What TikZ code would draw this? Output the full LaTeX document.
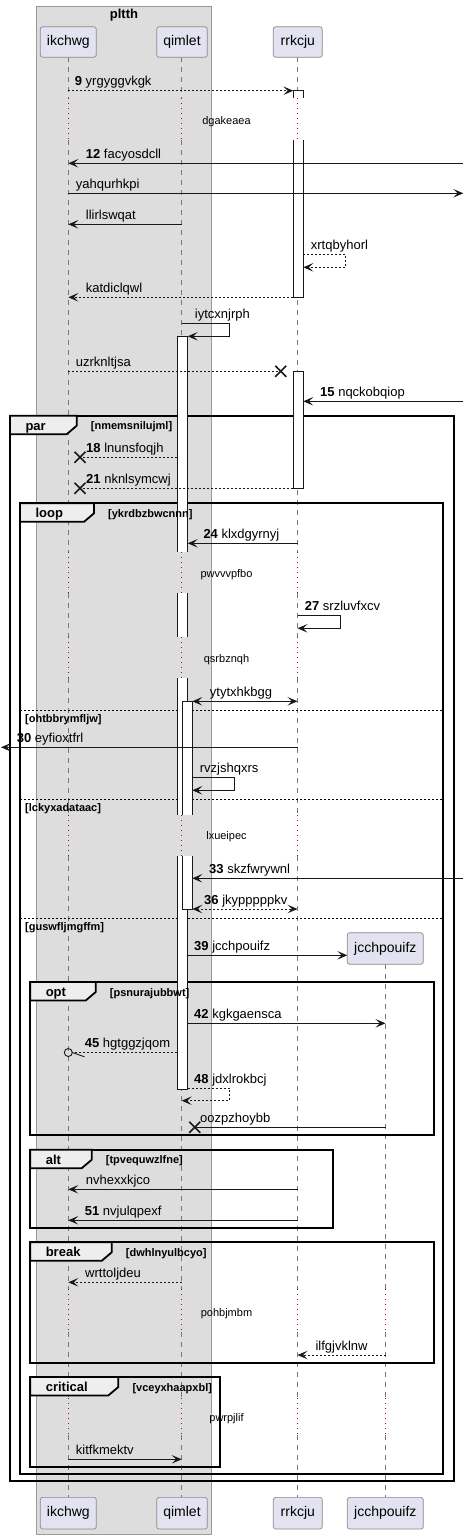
\documentclass[tikz,border=0pt]{standalone}
\usepackage{fontspec}
\setmainfont{Liberation Sans}
\usetikzlibrary{arrows.meta}
\definecolor{boxgray}{HTML}{DDDDDD}
\definecolor{boxline}{HTML}{9A9A9A}
\definecolor{partfill}{HTML}{E2E2F0}
\definecolor{partline}{HTML}{8A8A8A}
\definecolor{lifeln}{HTML}{777777}
\definecolor{delayred}{HTML}{A80036}
\definecolor{tabfill}{HTML}{EEEEEE}
\definecolor{ink}{HTML}{181818}
\tikzset{
  part/.style={draw=partline, fill=partfill, rounded corners=2.5pt, line width=0.7pt, inner sep=0pt, text height=10pt, text depth=3pt, font=\fontsize{14}{16}\selectfont},
  life/.style={draw=lifeln, line width=0.7pt, dash pattern=on 5pt off 5pt},
  delayline/.style={draw=delayred, line width=0.8pt, dash pattern=on 1pt off 4pt},
  actline/.style={draw=ink, line width=0.9pt},
  msg/.style={draw=ink, line width=0.9pt, -{Stealth[length=10pt,width=8.5pt,inset=4.5pt]}},
  dmsg/.style={msg, dash pattern=on 2pt off 2pt},
  bimsg/.style={draw=ink, line width=0.9pt, {Stealth[length=10pt,width=8.5pt,inset=4.5pt]}-{Stealth[length=10pt,width=8.5pt,inset=4.5pt]}},
  dbimsg/.style={bimsg, dash pattern=on 2pt off 2pt},
  plain/.style={draw=ink, line width=0.9pt},
  dplain/.style={plain, dash pattern=on 2pt off 2pt},
  lbl/.style={anchor=base west, inner sep=0pt, font=\fontsize{13}{15}\selectfont},
  frm/.style={draw=black, line width=1.8pt},
  tabshape/.style={draw=black, fill=tabfill, line width=1.8pt},
  grp/.style={anchor=base west, inner sep=0pt, font=\fontsize{13}{15}\selectfont\bfseries},
  cond/.style={anchor=base west, inner sep=0pt, font=\fontsize{11}{13}\selectfont\bfseries},
  dtext/.style={anchor=base, inner sep=0pt, font=\fontsize{11}{13}\selectfont},
  sepline/.style={draw=black, line width=0.9pt, dash pattern=on 2pt off 2pt},
  xmark/.style={draw=ink, line width=1.6pt},
}
\def\lxA{68.3}
\def\lxB{181.7}
\def\lxC{297.5}
\def\lxD{385.5}
% group frame: L, T, R, B, tabR
\newcommand\grpframe[5]{%
  \draw[frm] (#1,#2) rectangle (#3,#4);
  \draw[tabshape] (#1,#2) -- (#5,#2) -- (#5,#2+10) -- (#5-10,#2+18.5) -- (#1,#2+18.5) -- cycle;
}
% group labels: name, L, T, tabR, keyword, condition
\newcommand\grplabel[6]{%
  \node[grp] (#1k) at (#2+15.3,#3+14.5) {#5};
  \node[cond] (#1c) at (#4+14,#3+14) {#6};
}
% activation pieces: x1 x2 y1 y2
\newcommand\acttop[4]{\fill[white] (#1,#3) rectangle (#2,#4); \draw[actline] (#1,#4) -- (#1,#3) -- (#2,#3) -- (#2,#4);}
\newcommand\actbot[4]{\fill[white] (#1,#3) rectangle (#2,#4); \draw[actline] (#1,#3) -- (#1,#4) -- (#2,#4) -- (#2,#3);}
\newcommand\actmid[4]{\fill[white] (#1,#3) rectangle (#2,#4); \draw[actline] (#1,#3) -- (#1,#4) (#2,#3) -- (#2,#4);}
\newcommand\actfull[4]{\draw[actline, fill=white] (#1,#3) rectangle (#2,#4);}
\newcommand\xcross[1]{\draw[xmark] ([shift={(-5.5,-5.5)}]#1) -- ([shift={(5.5,5.5)}]#1) ([shift={(-5.5,5.5)}]#1) -- ([shift={(5.5,-5.5)}]#1);}
\begin{document}
\begin{tikzpicture}[x=1pt,y=-1pt]
\useasboundingbox (0,0) rectangle (468,1539);
% box
\draw[draw=boxline, fill=boxgray, line width=0.8pt] (36.6,6) rectangle (211.3,1534.3);
\node[anchor=base, inner sep=0pt, font=\fontsize{13}{15}\selectfont\bfseries] (ttl) at (124,19) {pltth};
% lifelines
\foreach \xx in {\lxA,\lxB,\lxC} {
  \draw[life] (\xx,57.3) -- (\xx,98.3) (\xx,140.3) -- (\xx,552) (\xx,593.3) -- (\xx,637) (\xx,678.3) -- (\xx,815) (\xx,856.3) -- (\xx,1289) (\xx,1331.7) -- (\xx,1398.3) (\xx,1435) -- (\xx,1497.3);
  \draw[delayline] (\xx,98.3) -- (\xx,140.3) (\xx,552) -- (\xx,593.3) (\xx,637) -- (\xx,678.3) (\xx,815) -- (\xx,856.3) (\xx,1289) -- (\xx,1331.7) (\xx,1398.3) -- (\xx,1435);
}
\draw[life] (\lxD,964.3) -- (\lxD,1289) (\lxD,1331.7) -- (\lxD,1398.3) (\lxD,1435) -- (\lxD,1497.3);
\draw[delayline] (\lxD,1289) -- (\lxD,1331.7) (\lxD,1398.3) -- (\lxD,1435);
% participants
\node[part, minimum width=56pt, minimum height=30.6pt] (pA) at (68.3,42) {ikchwg};
\node[part, minimum width=50.6pt, minimum height=30.6pt] (pB) at (182,42) {qimlet};
\node[part, minimum width=49pt, minimum height=30.6pt] (pC) at (297.8,42) {rrkcju};
\node[part, minimum width=76pt, minimum height=31.6pt] (pD) at (385.3,948.5) {jcchpouifz};
\node[part, minimum width=56pt, minimum height=31.7pt] (qA) at (68.3,1513.2) {ikchwg};
\node[part, minimum width=50.6pt, minimum height=31.7pt] (qB) at (182,1513.2) {qimlet};
\node[part, minimum width=49pt, minimum height=31.7pt] (qC) at (297.8,1513.2) {rrkcju};
\node[part, minimum width=76pt, minimum height=31.7pt] (qD) at (385.3,1513.2) {jcchpouifz};
% frames
\grpframe{10}{415.7}{454}{1481}{76.7}
\grpframe{20}{503.3}{443.3}{1474.3}{94}
\draw[sepline] (20,710) -- (443.3,710);
\draw[sepline] (20,799) -- (443.3,799);
\draw[sepline] (20,918) -- (443.3,918);
\grpframe{30.3}{982}{433.7}{1135}{95.7}
\grpframe{30.3}{1149.7}{332.7}{1228}{91.7}
\grpframe{30.3}{1242.3}{433.7}{1363.3}{111.7}
\grpframe{30.3}{1377}{219.7}{1467.3}{118.3}
% activations
\acttop{293.3}{303.3}{90.7}{98.3}
\actbot{293.3}{303.3}{140.3}{297.3}
\actfull{293.3}{303.3}{371.3}{488.3}
\acttop{177.3}{187.7}{336.3}{551.7}
\actmid{177.3}{187.7}{593.3}{636.7}
\actmid{177.3}{187.7}{678.3}{815}
\actbot{177.3}{187.7}{856.3}{1089.3}
\acttop{182.3}{192.3}{701.3}{815}
\actbot{182.3}{192.3}{856.3}{909}
% frame labels
\grplabel{par}{10}{415.7}{76.7}{par}{[nmemsnilujml]}
\grplabel{loop}{20}{503.3}{94}{loop}{[ykrdbzbwcnnn]}
\node[cond] (s1) at (25,722) {[ohtbbrymfljw]};
\node[cond] (s2) at (25,811) {[lckyxadataac]};
\node[cond] (s3) at (25,930) {[guswfljmgffm]};
\grplabel{opt}{30.3}{982}{95.7}{opt}{[psnurajubbwt]}
\grplabel{alt}{30.3}{1149.7}{91.7}{alt}{[tpvequwzlfne]}
\grplabel{brk}{30.3}{1242.3}{111.7}{break}{[dwhlnyulbcyo]}
\grplabel{crit}{30.3}{1377}{118.3}{critical}{[vceyxhaapxbl]}
% delay texts
\node[dtext] (d1) at (226.5,124.5) {dgakeaea};
\node[dtext] (d2) at (226.5,577.5) {pwvvvpfbo};
\node[dtext] (d3) at (226.5,662) {qsrbznqh};
\node[dtext] (d4) at (226.5,839.5) {lxueipec};
\node[dtext] (d5) at (226.5,1316) {pohbjmbm};
\node[dtext] (d6) at (226.5,1421) {pwrpjlif};
% messages
\coordinate (m1a) at (\lxA,90.7); \coordinate (m1b) at (293.3,90.7);
\draw[dmsg] (m1a) -- (m1b);
\node[lbl] (t1) at (74.7,85.7) {\textbf{9} yrgyggvkgk};
\coordinate (m2a) at (463.3,163.3); \coordinate (m2b) at (\lxA,163.3);
\draw[msg] (m2a) -- (m2b);
\node[lbl] (t2) at (85.7,158.3) {\textbf{12} facyosdcll};
\coordinate (m3a) at (\lxA,193.3); \coordinate (m3b) at (463.3,193.3);
\draw[msg] (m3a) -- (m3b);
\node[lbl] (t3) at (75.7,188.3) {yahqurhkpi};
\coordinate (m4a) at (\lxB,224.3); \coordinate (m4b) at (\lxA,224.3);
\draw[msg] (m4a) -- (m4b);
\node[lbl] (t4) at (85.7,219.3) {llirlswqat};
\coordinate (m5a) at (303.3,254.3); \coordinate (m5b) at (303.3,267.3);
\draw[dmsg] (m5a) -- ++(42.4,0) |- (m5b);
\node[lbl] (t5) at (310.7,249.3) {xrtqbyhorl};
\coordinate (m6a) at (293.3,297.3); \coordinate (m6b) at (\lxA,297.3);
\draw[dmsg] (m6a) -- (m6b);
\node[lbl] (t6) at (85.7,292.3) {katdiclqwl};
\coordinate (m7a) at (\lxB,323.7); \coordinate (m7b) at (187.7,336.3);
\draw[msg] (m7a) -- ++(48,0) |- (m7b);
\node[lbl] (t7) at (194.7,318.7) {iytcxnjrph};
\coordinate (m8a) at (\lxA,371.3); \coordinate (m8b) at (280.8,371.3);
\draw[dplain] (m8a) -- (m8b); \xcross{m8b}
\node[lbl] (t8) at (75.7,366.3) {uzrknltjsa};
\coordinate (m9a) at (463.3,401.3); \coordinate (m9b) at (303.3,401.3);
\draw[msg] (m9a) -- (m9b);
\node[lbl] (t9) at (320,396.3) {\textbf{15} nqckobqiop};
\coordinate (m10a) at (177.3,457.3); \coordinate (m10b) at (80,457.3);
\draw[dplain] (m10a) -- (m10b); \xcross{m10b}
\node[lbl] (t10) at (86,452.3) {\textbf{18} lnunsfoqjh};
\coordinate (m11a) at (293.3,488.3); \coordinate (m11b) at (80,488.3);
\draw[dplain] (m11a) -- (m11b); \xcross{m11b}
\node[lbl] (t11) at (86,483.3) {\textbf{21} nknlsymcwj};
\coordinate (m12a) at (\lxC,543.3); \coordinate (m12b) at (187.7,543.3);
\draw[msg] (m12a) -- (m12b);
\node[lbl] (t12) at (203.3,538.3) {\textbf{24} klxdgyrnyj};
\coordinate (m13a) at (\lxC,615.7); \coordinate (m13b) at (\lxC,628.3);
\draw[msg] (m13a) -- ++(42.8,0) |- (m13b);
\node[lbl] (t13) at (304.7,610.7) {\textbf{27} srzluvfxcv};
\coordinate (m14a) at (192.3,701.3); \coordinate (m14b) at (\lxC,701.3);
\draw[bimsg] (m14a) -- (m14b);
\node[lbl] (t14) at (209.7,696.3) {ytytxhkbgg};
\coordinate (m15a) at (\lxC,747.3); \coordinate (m15b) at (1,747.3);
\draw[msg] (m15a) -- (m15b);
\node[lbl] (t15) at (16.7,742.3) {\textbf{30} eyfioxtfrl};
\coordinate (m16a) at (192.3,777.3); \coordinate (m16b) at (192.3,790.3);
\draw[msg] (m16a) -- ++(42.4,0) |- (m16b);
\node[lbl] (t16) at (199.7,772.3) {rvzjshqxrs};
\coordinate (m17a) at (463.3,878.3); \coordinate (m17b) at (192.3,878.3);
\draw[msg] (m17a) -- (m17b);
\node[lbl] (t17) at (209,873.3) {\textbf{33} skzfwrywnl};
\coordinate (m18a) at (192.3,909); \coordinate (m18b) at (\lxC,909);
\draw[dbimsg] (m18a) -- (m18b);
\node[lbl] (t18) at (204,904) {\textbf{36} jkypppppkv};
\coordinate (m19a) at (187.7,955.3); \coordinate (m19b) at (347.3,955.3);
\draw[msg] (m19a) -- (m19b);
\node[lbl] (t19) at (194,950.3) {\textbf{39} jcchpouifz};
\coordinate (m20a) at (187.7,1023.3); \coordinate (m20b) at (\lxD,1023.3);
\draw[msg] (m20a) -- (m20b);
\node[lbl] (t20) at (194,1018.3) {\textbf{42} kgkgaensca};
\coordinate (m21a) at (177.3,1052.5); \coordinate (m21b) at (72.3,1052.5);
\coordinate (m21c) at (68.3,1052.5);
\draw[dplain] (m21a) -- (m21b);
\draw[plain] (m21c) circle[radius=4];
\draw[plain] (m21b) -- ++(12.2,4.3);
\node[lbl] (t21) at (84.7,1047.5) {\textbf{45} hgtggzjqom};
\coordinate (m22a) at (187.7,1088.3); \coordinate (m22b) at (\lxB,1100.7);
\draw[dmsg] (m22a) -- ++(42,0) |- (m22b);
\node[lbl] (t22) at (194,1083.3) {\textbf{48} jdxlrokbcj};
\coordinate (m23a) at (\lxD,1127.3); \coordinate (m23b) at (194.7,1127.3);
\draw[plain] (m23a) -- (m23b); \xcross{m23b}
\node[lbl] (t23) at (200,1122.3) {oozpzhoybb};
\coordinate (m24a) at (\lxC,1189.3); \coordinate (m24b) at (\lxA,1189.3);
\draw[msg] (m24a) -- (m24b);
\node[lbl] (t24) at (85.7,1184.3) {nvhexxkjco};
\coordinate (m25a) at (\lxC,1220.3); \coordinate (m25b) at (\lxA,1220.3);
\draw[msg] (m25a) -- (m25b);
\node[lbl] (t25) at (84.7,1215.3) {\textbf{51} nvjulqpexf};
\coordinate (m26a) at (\lxB,1282.3); \coordinate (m26b) at (\lxA,1282.3);
\draw[dmsg] (m26a) -- (m26b);
\node[lbl] (t26) at (85,1277.3) {wrttoljdeu};
\coordinate (m27a) at (\lxD,1355); \coordinate (m27b) at (\lxC,1355);
\draw[dmsg] (m27a) -- (m27b);
\node[lbl] (t27) at (315.3,1350) {ilfgjvklnw};
\coordinate (m28a) at (\lxA,1459.3); \coordinate (m28b) at (\lxB,1459.3);
\draw[msg] (m28a) -- (m28b);
\node[lbl] (t28) at (75.7,1454.3) {kitfkmektv};
\end{tikzpicture}
\end{document}
